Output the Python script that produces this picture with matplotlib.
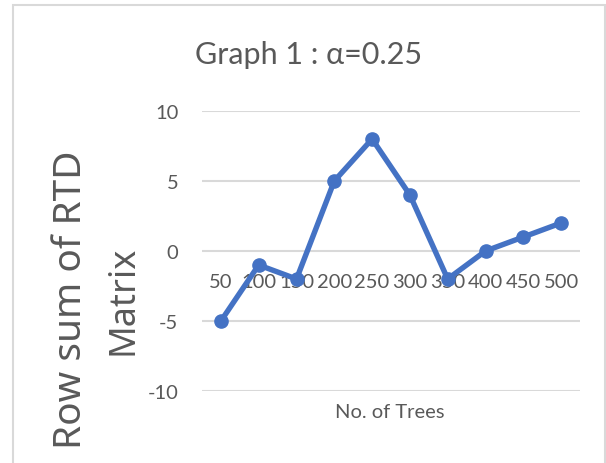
import matplotlib
matplotlib.use("Agg")
import matplotlib.pyplot as plt
from matplotlib.patches import Rectangle
from matplotlib.transforms import offset_copy

# Data
trees = ["50", "100", "150", "200", "250", "300", "350", "400", "450", "500"]
row_sum = [-5, -1, -2, 5, 8, 4, -2, 0, 1, 2]
y_ticks = [-10, -5, 0, 5, 10]

title_text = "Graph 1 : \u03b1=0.25"
x_title = "No. of Trees"
y_title_lines = ["Row sum of RTD", "Matrix"]

TEXT = "#595959"
GRID = "#d9d9d9"
LINE = "#4472C4"
NARROW = ["Lato", "DejaVu Sans"]
WIDE = ["Noto Sans", "DejaVu Sans"]

W, H, DPI = 606, 464, 100
fig = plt.figure(figsize=(W / DPI, H / DPI), dpi=DPI)
fig.patch.set_facecolor("white")

# Chart frame
fig.add_artist(Rectangle((13 / W, -0.05), (605 - 13) / W, 1.05 - 6 / H,
                         transform=fig.transFigure, fill=False,
                         edgecolor=GRID, linewidth=1.5))

ax = fig.add_axes([202 / W, (H - 392) / H, (580 - 202) / W, (392 - 112) / H])
x = list(range(len(trees)))
ax.plot(x, row_sum, color=LINE, linewidth=3.9, marker="o", markersize=9.5,
        solid_joinstyle="round", zorder=3, clip_on=False)

ax.set_xlim(-0.5, len(trees) - 0.5)
ax.set_ylim(-10, 10)
ax.set_yticks(y_ticks)
ax.set_yticklabels([str(v) for v in y_ticks], family=NARROW, fontsize=14.5,
                   color=TEXT)
ax.tick_params(axis="y", length=0, pad=17)
ax.grid(axis="y", color=GRID, linewidth=1.5)
ax.set_axisbelow(True)
for s in ax.spines.values():
    s.set_visible(False)

# Category labels sit just under the zero line
ax.set_xticks([])
lbl_tr = offset_copy(ax.transData, fig=fig, x=0, y=-22, units="dots")
for xi, t in zip(x, trees):
    ax.text(xi, 0, t, transform=lbl_tr, ha="center", va="top",
            family=NARROW, fontsize=14.5, color=TEXT, zorder=2)

fig.text(309 / W, 1 - 55 / H, title_text, ha="center", va="center",
         family=NARROW, fontsize=22, color=TEXT)
fig.text(390 / W, 1 - 413 / H, x_title, ha="center", va="center",
         family=NARROW, fontsize=14.5, color=TEXT)

fig.text(71 / W, 1 - 300 / H, y_title_lines[0], rotation=90, ha="center",
         va="center", family=WIDE, fontsize=28, color=TEXT)
fig.text(123 / W, 1 - 300 / H, y_title_lines[1], rotation=90, ha="center",
         va="center", family=WIDE, fontsize=26, color=TEXT)

fig.savefig("out.png", dpi=DPI, facecolor="white")
